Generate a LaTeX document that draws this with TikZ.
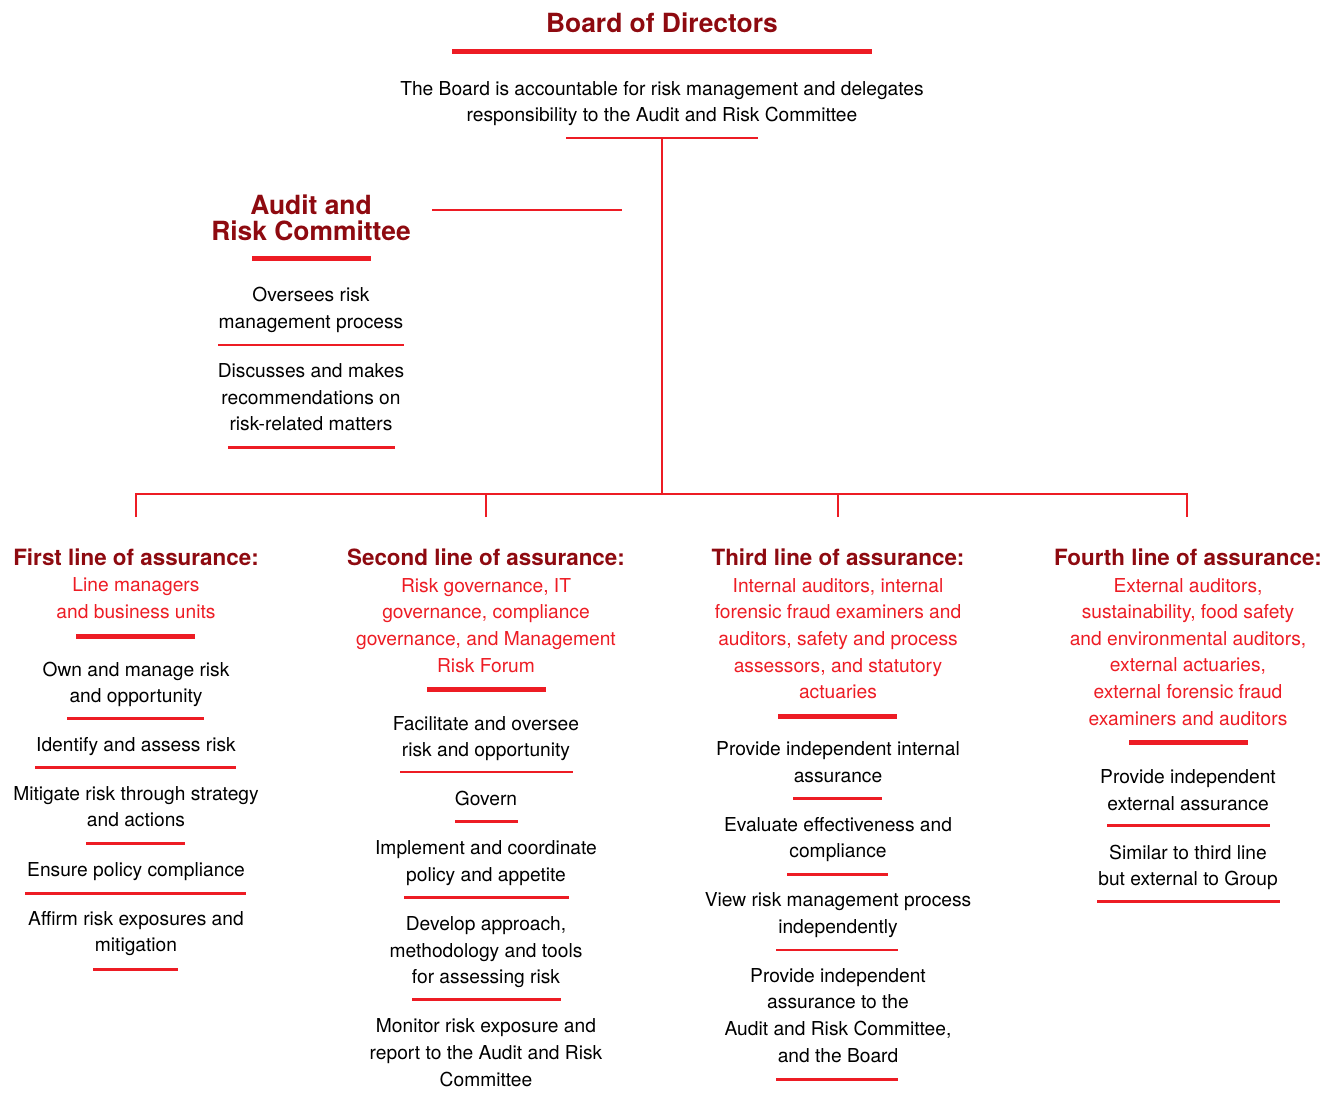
\documentclass[tikz,border=0pt]{standalone}
\usepackage{fontspec}
\setmainfont{TeX Gyre Heros}
\definecolor{darkred}{RGB}{142,10,16}
\definecolor{lred}{RGB}{237,28,36}

\begin{document}
\begin{tikzpicture}[x=0.5pt,y=-0.5pt,
  title/.style={font=\fontsize{13.2}{13}\selectfont\bfseries, text=darkred, align=center, anchor=base, inner sep=0pt},
  head/.style={font=\fontsize{11.2}{13}\selectfont\bfseries, text=darkred, anchor=base, inner sep=0pt},
  sub/.style={font=\fontsize{9.6}{13.33}\selectfont, text=lred, align=center, anchor=base, inner sep=0pt},
  txt/.style={font=\fontsize{9.6}{13.33}\selectfont, align=center, anchor=base, inner sep=0pt},
  bar/.style={draw=lred, line width=2.5pt},
  rule/.style={draw=lred, line width=1.35pt},
  link/.style={draw=lred, line width=0.6pt}]
\useasboundingbox (0,0) rectangle (1332,1101);
% (multi-line texts sit on the baseline of their last line)

% Board of Directors
\node[title] (board) at (662,33) {Board of Directors};
\draw[bar] (452,52) -- (872,52);
\node[txt] (boardtxt) at (662,121.7) {The Board is accountable for risk management and delegates\\responsibility to the Audit and Risk Committee};
\coordinate (boardul) at (662,138);
\draw[rule] (566,138) -- (758,138);

% Audit and Risk Committee
\node[title] (arc) at (311,241) {Audit and\\Risk Committee};
\coordinate (arcl) at (432,210);
\coordinate (arcr) at (622,210);
\draw[link] (arcl) -- (arcr);
\draw[bar] (252,259) -- (371,259);
\node[txt] (arc1) at (311,328.3) {Oversees risk\\management process};
\draw[rule] (218,345) -- (404,345);
\node[txt] (arc2) at (311,430.7) {Discusses and makes\\recommendations on\\risk-related matters};
\draw[rule] (228,447.7) -- (395,447.7);

% tree down to the four lines
\coordinate (split) at (662,494);
\coordinate (drop1) at (136,517);
\coordinate (drop2) at (486,517);
\coordinate (drop3) at (838,517);
\coordinate (drop4) at (1187,517);
\draw[link] (boardul) -- (split);
\draw[link] (drop1) |- (split) -| (drop4);
\draw[link] (drop2) -- (drop2 |- split);
\draw[link] (drop3) -- (drop3 |- split);

% First line
\node[head] (head1) at (136,565) {First line of assurance:};
\node[sub] (sub1) at (136,618.3) {Line managers\\and business units};
\draw[bar] (76,636) -- (195,636);
\node[txt] (c1a) at (136,702.7) {Own and manage risk\\and opportunity};
\draw[rule] (67,718.3) -- (204,718.3);
\node[txt] (c1b) at (136,751) {Identify and assess risk};
\draw[rule] (35,767.3) -- (236,767.3);
\node[txt] (c1c) at (136,826.7) {Mitigate risk through strategy\\and actions};
\draw[rule] (86,843.3) -- (185,843.3);
\node[txt] (c1d) at (136,876.7) {Ensure policy compliance};
\draw[rule] (25,893.3) -- (246,893.3);
\node[txt] (c1e) at (136,951.7) {Affirm risk exposures and\\mitigation};
\draw[rule] (93,969.3) -- (178,969.3);

% Second line
\node[head] (head2) at (486,565) {Second line of assurance:};
\node[sub] (sub2) at (486,672) {Risk governance, IT\\governance, compliance\\governance, and Management\\Risk Forum};
\draw[bar] (427,689.5) -- (546,689.5);
\node[txt] (c2a) at (486,756.7) {Facilitate and oversee\\risk and opportunity};
\draw[rule] (400,772) -- (573,772);
\node[txt] (c2b) at (486,805.7) {Govern};
\draw[rule] (455,821.5) -- (518,821.5);
\node[txt] (c2c) at (486,881.3) {Implement and coordinate\\policy and appetite};
\draw[rule] (404,897.3) -- (569,897.3);
\node[txt] (c2d) at (486,983.7) {Develop approach,\\methodology and tools\\for assessing risk};
\draw[rule] (412,999.5) -- (561,999.5);
\node[txt] (c2e) at (486,1086) {Monitor risk exposure and\\report to the Audit and Risk\\Committee};

% Third line
\node[head] (head3) at (838,565) {Third line of assurance:};
\node[sub] (sub3) at (838,698.7) {Internal auditors, internal\\forensic fraud examiners and\\auditors, safety and process\\assessors, and statutory\\actuaries};
\draw[bar] (778,716) -- (897,716);
\node[txt] (c3a) at (838,782.3) {Provide independent internal\\assurance};
\draw[rule] (793,798.3) -- (882,798.3);
\node[txt] (c3b) at (838,857.7) {Evaluate effectiveness and\\compliance};
\draw[rule] (787,874.3) -- (888,874.3);
\node[txt] (c3c) at (838,933.3) {View risk management process\\independently};
\draw[rule] (776,950) -- (898,950);
\node[txt] (c3d) at (838,1062.3) {Provide independent\\assurance to the\\Audit and Risk Committee,\\and the Board};
\draw[rule] (776,1079.3) -- (898,1079.3);

% Fourth line
\node[head] (head4) at (1188,565) {Fourth line of assurance:};
\node[sub] (sub4) at (1188,725.3) {External auditors,\\sustainability, food safety\\and environmental auditors,\\external actuaries,\\external forensic fraud\\examiners and auditors};
\draw[bar] (1129,742.5) -- (1248,742.5);
\node[txt] (c4a) at (1188,810) {Provide independent\\external assurance};
\draw[rule] (1107,825.5) -- (1270,825.5);
\node[txt] (c4b) at (1188,885.7) {Similar to third line\\but external to Group};
\draw[rule] (1097,901.5) -- (1280,901.5);
\end{tikzpicture}
\end{document}
